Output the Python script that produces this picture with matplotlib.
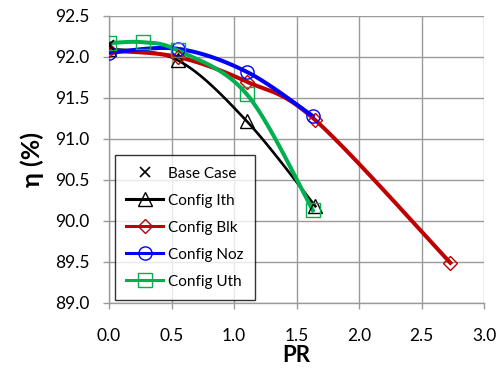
import numpy as np
import matplotlib
matplotlib.use("Agg")
import matplotlib.pyplot as plt
from matplotlib.lines import Line2D

plt.rcParams['font.family'] = ['Lato', 'DejaVu Sans']

# Efficiency vs pressure ratio for each configuration
base_x = [0.0]
base_y = [92.15]

ith_x = [0.0, 0.55, 1.10, 1.65]
ith_y = [92.10, 91.96, 91.22, 90.18]

blk_x = [0.0, 0.55, 1.10, 1.65, 2.73]
blk_y = [92.08, 92.00, 91.70, 91.23, 89.49]

noz_x = [0.0, 0.55, 1.10, 1.63]
noz_y = [92.05, 92.10, 91.82, 91.28]

uth_x = [0.0, 0.27, 0.55, 1.10, 1.63]
uth_y = [92.17, 92.18, 92.08, 91.55, 90.13]

x_ticks = [0.0, 0.5, 1.0, 1.5, 2.0, 2.5, 3.0]
y_ticks = [89.0, 89.5, 90.0, 90.5, 91.0, 91.5, 92.0, 92.5]


def smooth(xs, ys, n=40, tension=1/6):
    """Smoothed curve through the points using cubic Bezier segments."""
    p = np.column_stack([xs, ys]).astype(float)
    if len(p) < 3:
        return p[:, 0], p[:, 1]
    out = []
    for i in range(len(p) - 1):
        p0 = p[i - 1] if i > 0 else p[i]
        p1 = p[i]
        p2 = p[i + 1]
        p3 = p[i + 2] if i + 2 < len(p) else p[i + 1]
        c1 = p1 + (p2 - p0) * tension
        c2 = p2 - (p3 - p1) * tension
        t = np.linspace(0, 1, n)[:, None]
        seg = ((1 - t) ** 3) * p1 + 3 * ((1 - t) ** 2) * t * c1 + 3 * (1 - t) * t ** 2 * c2 + t ** 3 * p2
        out.append(seg if i == 0 else seg[1:])
    out = np.vstack(out)
    return out[:, 0], out[:, 1]


fig = plt.figure(figsize=(4.96, 3.72), dpi=100)
ax = fig.add_axes([0.2198, 0.1855, 0.7562, 0.7715])

series = [
    ("Config Ith", ith_x, ith_y, "black", "^", 9.5, 1.9),
    ("Config Blk", blk_x, blk_y, "#C00000", "D", 7, 2.9),
    ("Config Noz", noz_x, noz_y, "#0000FF", "o", 9.5, 2.9),
    ("Config Uth", uth_x, uth_y, "#00B050", "s", 9.5, 2.9),
]

handles = [Line2D([], [], color="black", marker="x", linestyle="none",
                  markersize=7.5, markeredgewidth=1.2, label="Base Case")]
ax.plot(base_x, base_y, linestyle="none", marker="x", color="black",
        markersize=7.5, markeredgewidth=1.2, zorder=6)

for name, xs, ys, col, mk, ms, lw in series:
    sx, sy = smooth(xs, ys)
    ax.plot(sx, sy, color=col, linewidth=lw, zorder=3)
    ax.plot(xs, ys, linestyle="none", marker=mk, markersize=ms,
            markerfacecolor="none", markeredgecolor=col, markeredgewidth=1.0, zorder=5)
    handles.append(Line2D([], [], color=col, linewidth=2.2, marker=mk, markersize=ms,
                          markerfacecolor="none", markeredgecolor=col,
                          markeredgewidth=1.0, label=name))

ax.set_xlim(0, 3.0)
ax.set_ylim(89.0, 92.5)
ax.set_xticks(x_ticks)
ax.set_yticks(y_ticks)
ax.set_xticklabels([f"{v:.1f}" for v in x_ticks], fontsize=12.5)
ax.set_yticklabels([f"{v:.1f}" for v in y_ticks], fontsize=12.5)
ax.grid(True, color="#9A9A9A", linewidth=1.0, zorder=0)
ax.set_axisbelow(True)
for s in ("top", "right"):
    ax.spines[s].set_visible(False)
for s in ("left", "bottom"):
    ax.spines[s].set_color("#9A9A9A")
    ax.spines[s].set_linewidth(1.0)
ax.tick_params(axis="both", direction="out", length=4, color="#9A9A9A", width=1.0)
ax.tick_params(axis="x", pad=14)
ax.tick_params(axis="y", pad=10)

ax.set_xlabel("PR", fontsize=16, fontweight="bold", labelpad=1)
ax.set_ylabel("η (%)", fontsize=18, fontweight="bold", labelpad=8)

leg = ax.legend(handles=handles, loc="lower left", bbox_to_anchor=(0.016, 0.0105),
                fontsize=11, frameon=True, fancybox=False, edgecolor="black",
                handlelength=2.4, handletextpad=0.3, labelspacing=0.85,
                borderpad=0.75, borderaxespad=0.0)
leg.get_frame().set_linewidth(1.0)
leg.set_zorder(4)

fig.savefig("out.png", dpi=100, facecolor="white")
